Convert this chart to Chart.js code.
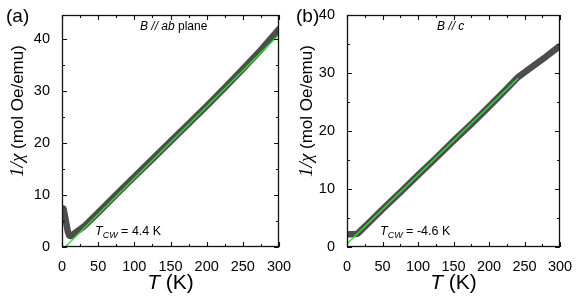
<!DOCTYPE html>
<html>
<head>
<meta charset="utf-8">
<script src="https://cdn.jsdelivr.net/npm/chart.js@4.4.1/dist/chart.umd.min.js"></script>
<style>
  body { margin: 0; background: #fff; }
  #wrap { position: relative; width: 581px; height: 301px; }
  canvas { position: absolute; top: 0; }
</style>
</head>
<body>
<div id="wrap">
  <canvas id="chartA" width="296" height="301" style="left:0"></canvas>
  <canvas id="chartB" width="291" height="301" style="left:290px"></canvas>
</div>
<script>
// panel (a): B // ab plane
const tempA = [2, 4, 6, 8, 10, 12, 15, 20, 30, 50, 75, 100, 125, 150, 175, 200, 225, 250, 275, 300];
const chiA = [7.4, 6.0, 4.5, 3.0, 2.2, 2.1, 2.4, 2.9, 3.9, 6.6, 10.1, 13.5, 16.9, 20.3, 23.7, 27.1, 30.6, 34.2, 37.9, 41.9];
const fitTempA = [4.4, 300];
const fitChiA = [0, 40.8];

// panel (b): B // c
const tempB = [2, 5, 10, 15, 20, 30, 50, 75, 100, 125, 150, 175, 200, 225, 240, 260, 280, 298];
const chiB = [2.2, 2.2, 2.2, 2.3, 2.9, 4.1, 6.5, 9.4, 12.4, 15.3, 18.3, 21.2, 24.2, 27.3, 29.2, 31.0, 32.8, 34.5];
const fitTempB = [0, 241];
const fitChiB = [0.55, 29.1];

const xTicks = [0, 50, 100, 150, 200, 250, 300];
const yTicksA = [0, 10, 20, 30, 40];
const yTicksB = [0, 10, 20, 30, 40];

const SANS = '"Liberation Sans", Arial, sans-serif';

function pts(xs, ys) {
    return xs.map((x, i) => ({ x: x, y: ys[i] }));
}

// draws a row of text pieces with their own fonts
function drawRuns(ctx, runs, x, y, align) {
    ctx.save();
    ctx.textBaseline = 'middle';
    ctx.textAlign = 'left';
    let total = 0;
    runs.forEach(r => { ctx.font = r.f; total += ctx.measureText(r.t).width; });
    let cx = align === 'center' ? x - total / 2 : x;
    runs.forEach(r => {
        ctx.font = r.f;
        ctx.fillStyle = '#000';
        ctx.fillText(r.t, cx, y + (r.dy || 0));
        cx += ctx.measureText(r.t).width;
    });
    ctx.restore();
}

const framePlugin = {
    id: 'frame',
    afterDraw(chart, args, opts) {
        const ctx = chart.ctx;
        const a = chart.chartArea;
        const xs = chart.scales.x, ys = chart.scales.y;
        ctx.save();
        ctx.strokeStyle = '#111';
        ctx.lineWidth = 1.3;
        ctx.strokeRect(a.left + 0.5, a.top + 0.5, a.right - a.left - 1, a.bottom - a.top - 1);
        // inward ticks on all four sides
        ctx.lineWidth = 1.1;
        ctx.beginPath();
        for (let v = xs.min; v <= xs.max; v += 25) {
            const p = Math.round(xs.getPixelForValue(v)) + 0.5;
            const len = v % 50 === 0 ? 5 : 3;
            ctx.moveTo(p, a.bottom); ctx.lineTo(p, a.bottom - len);
            ctx.moveTo(p, a.top); ctx.lineTo(p, a.top + len);
        }
        for (let v = ys.min; v <= ys.max; v += 5) {
            const p = Math.round(ys.getPixelForValue(v)) + 0.5;
            const len = v % 10 === 0 ? 5 : 3;
            ctx.moveTo(a.left, p); ctx.lineTo(a.left + len, p);
            ctx.moveTo(a.right, p); ctx.lineTo(a.right - len, p);
        }
        ctx.stroke();
        ctx.restore();

        // panel letter
        drawRuns(ctx, [{ t: opts.letter, f: '19px ' + SANS }], opts.letterX, 17, 'left');
        // x title
        drawRuns(ctx, [{ t: 'T', f: 'italic 21px ' + SANS }, { t: ' (K)', f: '21px ' + SANS }],
            (a.left + a.right) / 2, 283, 'center');
        // y title
        ctx.save();
        ctx.translate(opts.yTitleX, 111);
        ctx.rotate(-Math.PI / 2);
        drawRuns(ctx, [{ t: '1/χ', f: 'italic 19px "Liberation Serif", serif' },
                       { t: ' (mol Oe/emu)', f: '17px ' + SANS }], 0, 0, 'center');
        ctx.restore();
        // field direction
        drawRuns(ctx, opts.field, opts.fieldX, 27, 'left');
        // Curie-Weiss temperature
        drawRuns(ctx, [{ t: 'T', f: 'italic 12.5px ' + SANS },
                       { t: 'CW', f: 'italic 9px ' + SANS, dy: 3 },
                       { t: ' = ' + opts.tcw + ' K', f: '12.5px ' + SANS }], opts.tcwX, 232, 'left');
    }
};

function makeChart(id, data, fit, yMax, yTicks, padRight, yWidth, extra) {
    const ctx = document.getElementById(id).getContext('2d');
    return new Chart(ctx, {
        type: 'line',
        data: {
            datasets: [{
                data: fit,
                borderColor: '#33dd33',
                borderWidth: 1.4,
                pointRadius: 0,
                tension: 0
            }, {
                data: data,
                borderColor: '#4d4d4d',
                borderWidth: 6.5,
                borderCapStyle: 'round',
                borderJoinStyle: 'round',
                pointRadius: 0,
                tension: 0
            }]
        },
        options: {
            responsive: false,
            animation: false,
            events: [],
            layout: { padding: { left: 0, right: padRight, top: 15, bottom: 0 } },
            plugins: { legend: { display: false }, tooltip: { enabled: false }, frame: extra },
            scales: {
                x: {
                    type: 'linear', min: 0, max: 300,
                    grid: { display: false }, border: { display: false },
                    ticks: {
                        stepSize: 50, padding: 3, color: '#000',
                        font: { family: SANS, size: 14.5 },
                        callback: v => xTicks.includes(v) ? String(v) : ''
                    },
                    afterFit(s) { s.height = 54; s.paddingLeft = 0; s.paddingRight = 0; }
                },
                y: {
                    type: 'linear', min: 0, max: yMax,
                    grid: { display: false }, border: { display: false },
                    ticks: {
                        stepSize: 10, padding: 4, color: '#000', includeBounds: false,
                        font: { family: SANS, size: 14.5 },
                        callback: v => yTicks.includes(v) ? String(v) : ''
                    },
                    afterFit(s) { s.width = yWidth; s.paddingTop = 0; s.paddingBottom = 0; }
                }
            }
        },
        plugins: [framePlugin]
    });
}

makeChart('chartA', pts(tempA, chiA), pts(fitTempA, fitChiA), 44.6, yTicksA, 17, 62, {
    letter: '(a)', letterX: 6, yTitleX: 18,
    field: [{ t: 'B // ab', f: 'italic 12px ' + SANS }, { t: ' plane', f: '12px ' + SANS }],
    fieldX: 140, tcw: '4.4', tcwX: 95
});
makeChart('chartB', pts(tempB, chiB), pts(fitTempB, fitChiB), 40, yTicksB, 21, 57, {
    letter: '(b)', letterX: 6, yTitleX: 17,
    field: [{ t: 'B // c', f: 'italic 12px ' + SANS }],
    fieldX: 147, tcw: '-4.6', tcwX: 90
});
</script>
</body>
</html>
